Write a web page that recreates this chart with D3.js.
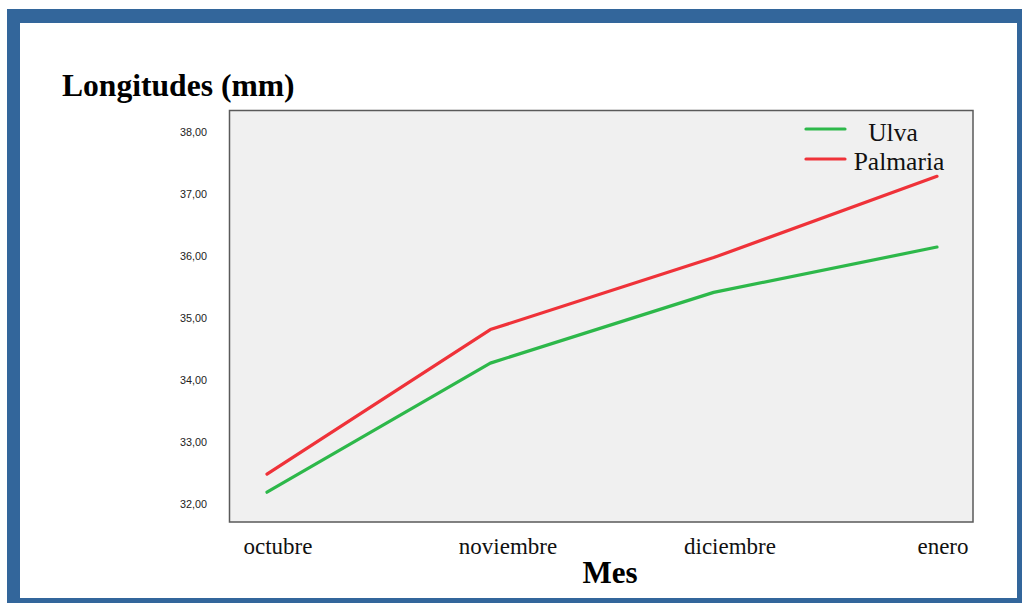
<!DOCTYPE html>
<html>
<head>
<meta charset="utf-8">
<script src="https://cdn.jsdelivr.net/npm/d3@7"></script>
<style>
  html, body { margin: 0; padding: 0; background: #ffffff; }
  svg { display: block; }
</style>
</head>
<body>
<svg id="chart" width="1022" height="603"></svg>
<script>
// Monthly mean lengths (mm) for the two diets
const months = ["octubre", "noviembre", "diciembre", "enero"];
const ulva = [32.19, 34.27, 35.41, 36.14];
const palmaria = [32.48, 34.81, 35.97, 37.28];
const yTicks = [32, 33, 34, 35, 36, 37, 38];
const seriesNames = ["Ulva", "Palmaria"];
const seriesColors = ["#2db84a", "#ef3239"];

const svg = d3.select("#chart");
const serif = "'Liberation Serif', 'Times New Roman', serif";
const sans = "'Liberation Sans', Arial, sans-serif";

// Framed panel
svg.append("rect").attr("x", 7).attr("y", 9).attr("width", 1030).attr("height", 610)
  .attr("fill", "#33669b");
svg.append("rect").attr("x", 20).attr("y", 23).attr("width", 997).attr("height", 575)
  .attr("fill", "#ffffff");

const plot = { left: 229.5, top: 110.5, right: 973, bottom: 522 };

const y = d3.scaleLinear().domain([31.71, 38.34]).range([plot.bottom, plot.top]);
const x = d3.scalePoint().domain(months).range([267, 937]);
// Category label anchors along the bottom edge
const xLabel = d3.scaleOrdinal().domain(months).range([278, 508, 730, 943]);

// Plot background
svg.append("rect")
  .attr("x", plot.left).attr("y", plot.top)
  .attr("width", plot.right - plot.left).attr("height", plot.bottom - plot.top)
  .attr("fill", "#f0f0f0").attr("stroke", "#5a5a5a").attr("stroke-width", 1.5);

// Y axis labels
const yAxis = d3.axisLeft(y).tickValues(yTicks).tickSize(0).tickPadding(0)
  .tickFormat(d => d3.format(".2f")(d).replace(".", ","));
const yg = svg.append("g").attr("transform", "translate(207,0)").call(yAxis);
yg.select(".domain").remove();
yg.selectAll("text")
  .attr("font-family", sans)
  .attr("font-size", "10.8px").attr("fill", "#222");

// X axis labels
const xg = svg.append("g").attr("transform", "translate(0,538)");
xg.selectAll("text").data(months).join("text")
  .attr("x", d => xLabel(d))
  .attr("text-anchor", "middle")
  .attr("font-family", serif)
  .attr("font-size", "23px").attr("fill", "#111")
  .attr("dy", "0.71em")
  .text(d => d);

// Lines
const line = d3.line().x((d, i) => x(months[i])).y(d => y(d));
[ulva, palmaria].forEach((vals, k) => {
  svg.append("path").datum(vals)
    .attr("d", line)
    .attr("fill", "none")
    .attr("stroke", seriesColors[k])
    .attr("stroke-width", 3.2)
    .attr("stroke-linecap", "round")
    .attr("stroke-linejoin", "round");
});

// Legend
const legendRows = [
  { y: 129, textX: 893, baseline: 141 },
  { y: 159, textX: 899, baseline: 170 }
];
seriesNames.forEach((name, k) => {
  const r = legendRows[k];
  svg.append("line")
    .attr("x1", 806).attr("x2", 845).attr("y1", r.y).attr("y2", r.y)
    .attr("stroke", seriesColors[k]).attr("stroke-width", 3.2)
    .attr("stroke-linecap", "round");
  svg.append("text")
    .attr("x", r.textX).attr("y", r.baseline)
    .attr("text-anchor", "middle")
    .attr("font-family", serif)
    .attr("font-size", "25.5px").attr("fill", "#111")
    .text(name);
});

// Titles
svg.append("text")
  .attr("x", 62).attr("y", 96)
  .attr("font-family", serif)
  .attr("font-weight", "bold").attr("font-size", "31.6px").attr("fill", "#000")
  .text("Longitudes (mm)");

svg.append("text")
  .attr("x", 610).attr("y", 583)
  .attr("text-anchor", "middle")
  .attr("font-family", serif)
  .attr("font-weight", "bold").attr("font-size", "31px").attr("fill", "#000")
  .text("Mes");
</script>
</body>
</html>
